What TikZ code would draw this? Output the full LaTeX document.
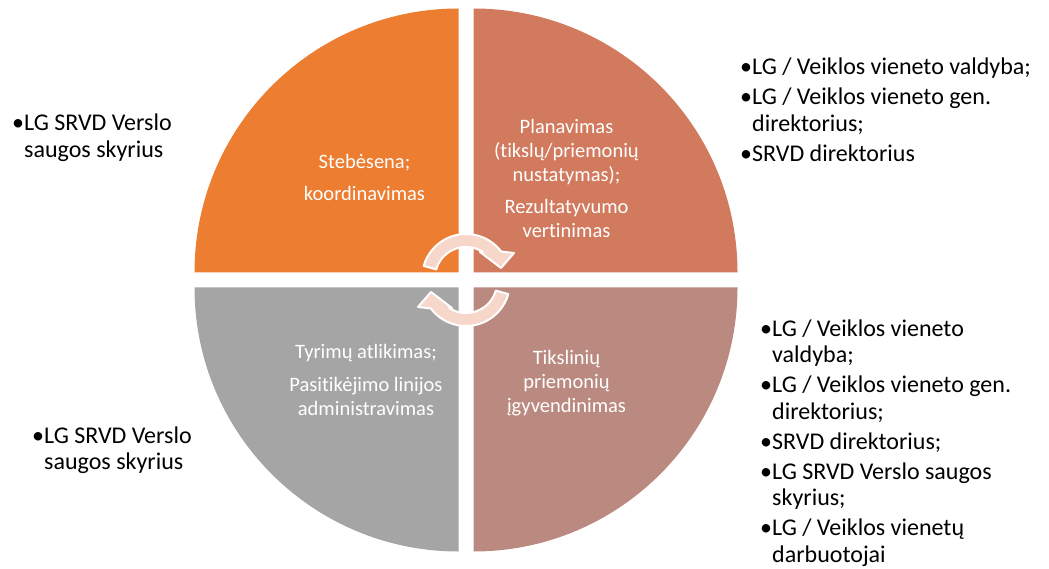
\documentclass[tikz,border=0pt]{standalone}
\usepackage{fontspec}
\setmainfont{Carlito}[Ligatures=NoCommon]
\usepackage{xcolor}
\definecolor{qOrange}{HTML}{ED7D31}
\definecolor{qSalmon}{HTML}{D17A5E}
\definecolor{qGray}{HTML}{A5A5A5}
\definecolor{qRose}{HTML}{BA8A81}
\definecolor{arrowPink}{HTML}{F8D7CB}

\newcommand{\blt}[1]{\par\hangindent=12pt\hangafter=1\noindent\makebox[12pt][l]{•}#1}
\newcommand{\lstbox}[1]{\parbox[t]{330pt}{\raggedright\setlength{\parskip}{3.5pt}#1}}
\newcommand{\inbox}[1]{\parbox[t]{200pt}{\centering #1}}

\tikzset{
  inner text/.style={anchor=base, inner sep=0pt, text=white, font=\fontsize{20.5pt}{24pt}\selectfont},
  side list/.style={anchor=base west, inner sep=0pt, font=\fontsize{24pt}{26.5pt}\selectfont},
  cyc arrow/.style={fill=arrowPink, draw=white, line width=2pt, line join=round},
}

\begin{document}
\begin{tikzpicture}[x=1pt, y=-1pt]
        \useasboundingbox (0,0) rectangle (1049,569);
        \coordinate (c) at (466,280);

        % Four quadrants
        \foreach \a/\sx/\sy/\col in {180/-1/-1/qOrange, 270/1/-1/qSalmon, 0/1/1/qRose, 90/-1/1/qGray}
            \fill[\col] ([shift={(\sx*7.5,\sy*7.5)}]c) -- ++(\a:264) arc[start angle=\a, delta angle=90, radius=264] -- cycle;

        % Cycle arrows
        \coordinate (cu) at (466,278);
        \coordinate (cl) at (466,282);
        \draw[cyc arrow] ([shift={(196:44)}]cu) arc[start angle=196, end angle=323, radius=44]
            -- (514,253) -- (501,268) -- (480,252) -- ([shift={(303:31)}]cu)
            arc[start angle=303, end angle=196, radius=31] -- cycle;
        \draw[cyc arrow] ([shift={(16:44)}]cl) arc[start angle=16, end angle=143, radius=44]
            -- (418,307) -- (431,292) -- (452,308) -- ([shift={(123:31)}]cl)
            arc[start angle=123, end angle=16, radius=31] -- cycle;

        % Quadrant texts
        \node[inner text] (tStebesena) at (364.5,169) {\inbox{Stebėsena;\\[8pt]koordinavimas}};
        \node[inner text] (tPlanavimas) at (566.5,134) {\inbox{Planavimas\\(tikslų/priemonių\\nustatymas);\\[8pt]Rezultatyvumo\\vertinimas}};
        \node[inner text] (tTyrimai) at (366,358) {\inbox{Tyrimų atlikimas;\\[9pt]Pasitikėjimo linijos\\administravimas}};
        \node[inner text] (tIgyvendinimas) at (566.5,364) {\inbox{Tikslinių\\priemonių\\įgyvendinimas}};

        % Responsible parties
        \node[side list] (lTopLeft) at (12,131) {\lstbox{\blt{LG SRVD Verslo\newline saugos skyrius}}};
        \node[side list] (lTopRight) at (740,75) {\lstbox{\blt{LG / Veiklos vieneto valdyba;}\blt{LG / Veiklos vieneto gen.\newline direktorius;}\blt{SRVD direktorius}}};
        \node[side list] (lBotRight) at (760,336) {\lstbox{\blt{LG / Veiklos vieneto\newline valdyba;}\blt{LG / Veiklos vieneto gen.\newline direktorius;}\blt{SRVD direktorius;}\blt{LG SRVD Verslo saugos\newline skyrius;}\blt{LG / Veiklos vienetų\newline darbuotojai}}};
        \node[side list] (lBotLeft) at (32,443) {\lstbox{\blt{LG SRVD Verslo\newline saugos skyrius}}};
\end{tikzpicture}
\end{document}
